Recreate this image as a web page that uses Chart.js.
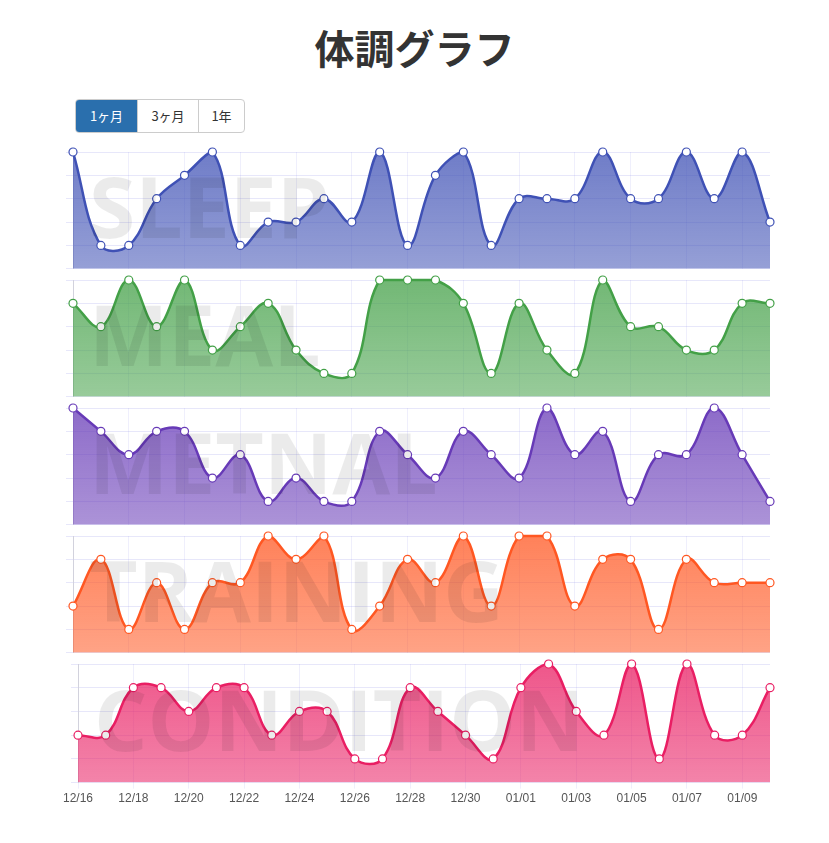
<!DOCTYPE html>
<html><head><meta charset="utf-8">
<script src="https://cdn.jsdelivr.net/npm/chart.js@4"></script>
<style>
body{margin:0;background:#fff;font-family:"Noto Sans CJK JP","Noto Sans",sans-serif;}
h1{position:absolute;left:0;width:829px;top:20px;margin:0;text-align:center;font-size:40px;font-weight:bold;color:#333;line-height:54px;}
.btns{position:absolute;left:75px;top:99px;display:flex;border:1px solid #ccc;border-radius:4px;overflow:hidden;}
.btns span{font-size:13px;width:60px;text-align:center;height:32px;line-height:32px;border-left:1px solid #ccc;color:#333;}
.btns span:last-child{width:45px;}
.btns span.on{background:#2a6fad;color:#fff;border-left:none;width:61px;}
.pane{position:absolute;left:60px;width:725px;}
</style></head><body>
<h1>体調グラフ</h1>
<div class="btns"><span class="on">1ヶ月</span><span>3ヶ月</span><span>1年</span></div>
<div class="pane" style="top:146px;height:128px"><canvas id="c0"></canvas></div>
<div class="pane" style="top:274px;height:128px"><canvas id="c1"></canvas></div>
<div class="pane" style="top:402px;height:128px"><canvas id="c2"></canvas></div>
<div class="pane" style="top:530px;height:128px"><canvas id="c3"></canvas></div>
<div class="pane" style="top:658px;height:151px"><canvas id="c4"></canvas></div>
<script>
const days = ['12/16','12/17','12/18','12/19','12/20','12/21','12/22','12/23','12/24','12/25','12/26','12/27','12/28','12/29','12/30','12/31','01/01','01/02','01/03','01/04','01/05','01/06','01/07','01/08','01/09','01/10'];
const sleep     = [5,1,1,3,4,5,1,2,2,3,2,5,1,4,5,1,3,3,3,5,3,3,5,3,5,2];
const meal      = [4,3,5,3,5,2,3,4,2,1,1,5,5,5,4,1,4,2,1,5,3,3,2,2,4,4];
const mental    = [5,4,3,4,4,2,3,1,2,1,1,4,3,2,4,3,2,5,3,4,1,3,3,5,3,1];
const training  = [2,4,1,3,1,3,3,5,4,5,1,2,4,3,5,2,5,5,2,4,4,1,4,3,3,3];
const condition = [2,2,4,4,3,4,4,2,3,3,1,1,4,3,2,1,4,5,3,2,5,1,5,2,2,4];
const names  = ['SLEEP','MEAL','METNAL','TRAINING','CONDITION'];
const series = [sleep, meal, mental, training, condition];
const colors = [[63,81,181],[67,160,71],[103,58,183],[255,87,34],[233,30,99]];

const watermark = {
  id:'watermark',
  afterDatasetsDraw(chart, args, opts){
    const ctx = chart.ctx, a = chart.chartArea;
    ctx.save();
    ctx.font = 'bold 84px "Open Sans", sans-serif';
    ctx.fillStyle = 'rgba(0,0,0,0.08)';
    ctx.textBaseline = 'middle';
    ctx.fillText(opts.text, a.left + 16, a.top + (a.bottom - a.top) / 2 + 4);
    ctx.restore();
  }
};

series.forEach((data, i) => {
  const c = colors[i].join(',');
  const last = i === 4;
  new Chart(document.getElementById('c' + i), {
    type: 'line',
    data: {
      labels: days,
      datasets: [{
        data: data,
        clip: false,
        borderColor: 'rgb(' + c + ')',
        borderWidth: 2.5,
        tension: 0.4,
        fill: true,
        backgroundColor: (ctx) => {
          const a = ctx.chart.chartArea;
          if (!a) return 'rgba(' + c + ',0.6)';
          const g = ctx.chart.ctx.createLinearGradient(0, a.top, 0, a.bottom);
          g.addColorStop(0, 'rgba(' + c + ',0.75)');
          g.addColorStop(1, 'rgba(' + c + ',0.55)');
          return g;
        },
        pointRadius: 4,
        pointBackgroundColor: '#fff',
        pointBorderColor: 'rgb(' + c + ')',
        pointBorderWidth: 1.2
      }]
    },
    options: {
      responsive: true,
      maintainAspectRatio: false,
      animation: false,
      layout: {padding: {top: 6, bottom: last ? 0 : 5, right: 15}},
      plugins: {legend: {display: false}, tooltip: {enabled: false}, watermark: {text: names[i]}},
      scales: {
        x: {
          grid: {color: 'rgba(120,120,230,0.12)', drawTicks: last, tickLength: 6},
          border: {display: false},
          ticks: {
            display: last, color: '#555', font: {size: 12}, maxRotation: 0, autoSkip: false,
            callback: (v, idx) => idx % 2 === 0 ? days[idx] : null
          }
        },
        y: {
          min: 0, max: 5,
          afterFit: (s) => { s.width = 13; },
          grid: {color: 'rgba(120,120,230,0.18)', tickLength: 7},
          border: {color: 'rgba(0,0,0,0.12)'},
          ticks: {display: false, stepSize: 1}
        }
      }
    },
    plugins: [watermark]
  });
});
</script>
</body></html>
